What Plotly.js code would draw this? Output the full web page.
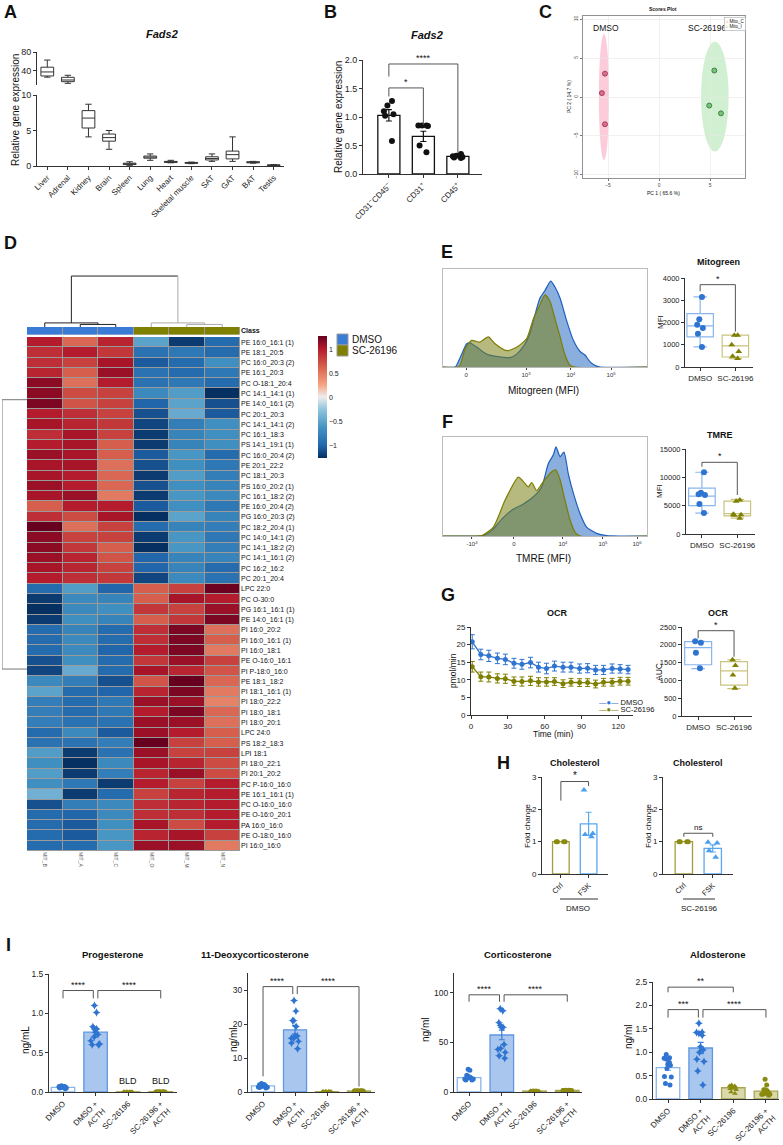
<!DOCTYPE html>
<html><head><meta charset="utf-8">
<script src="https://cdn.plot.ly/plotly-3.0.1.min.js"></script>
<style>body{margin:0;background:#fff}#chart{width:783px;height:1145px}</style>
</head><body><div id="chart"></div>
<script>
// ================= DATA =================
// A: Fads2 tissue expression (box stats)
const tissues=['Liver','Adrenal','Kidney','Brain','Spleen','Lung','Heart','Skeletal muscle','SAT','GAT','BAT','Testis'];
const tissueQ1=[29.5,17.5,5.35,3.5,0.2,1.1,0.5,0.38,0.85,1.0,0.45,0.08];
const tissueMedian=[38,21,6.75,4.0,0.3,1.25,0.58,0.45,1.05,1.6,0.52,0.12];
const tissueQ3=[48,26.7,7.8,4.5,0.4,1.4,0.65,0.5,1.3,2.1,0.6,0.15];
const tissueMin=[27,14,4.1,2.35,0.1,0.8,0.45,0.33,0.65,0.65,0.4,0.05];
const tissueMax=[63,31,8.7,5.0,0.6,1.7,0.8,0.55,1.7,4.1,0.65,0.2];
// B: Fads2 cell fractions
const cellTypes=['CD31<sup>−</sup>CD45<sup>−</sup>','CD31<sup>+</sup>','CD45<sup>+</sup>'];
const cellMean=[1.03,0.66,0.31];
const cellSem=[0.1,0.09,0.02];
const cellPts=[[1.28,1.2,1.1,1.05,1.02,0.58],[0.85,0.85,0.85,0.84,0.5,0.38],[0.28,0.3,0.32,0.35,0.31,0.29]];
const sigB=[[0,1,1.51,1.36,0.86,'*'],[0,2,1.93,1.71,0.37,'****']];
// C: PCA scores
const pcaDmsoX=[-5.3,-5.6,-5.3], pcaDmsoY=[3.0,0.5,-3.5];
const pcaScX=[5.4,4.9,6.05], pcaScY=[3.4,-1.1,-2.1];
const ellDmso=[-5.4,0,0.5,8.1], ellSc=[5.45,0.05,1.35,7.05]; // cx, cy, rx, ry
// D: lipid heatmap
const samples=['MIT_B','MIT_A','MIT_C','MIT_O','MIT_M','MIT_N'];
const sampleClass=[0,0,0,1,1,1];
const lipids=['PE 16:0_16:1 (1)','PE 18:1_20:5','PC 16:0_20:3 (2)','PE 16:1_20:3','PC O-18:1_20:4','PC 14:1_14:1 (1)','PE 14:0_16:1 (2)','PC 20:1_20:3','PC 14:1_14:1 (2)','PC 16:1_18:3','PS 14:1_19:1 (1)','PC 16:0_20:4 (2)','PE 20:1_22:2','PC 18:1_20:3','PS 16:0_20:2 (1)','PC 16:1_18:2 (2)','PE 16:0_20:4 (2)','PG 16:0_20:3 (2)','PC 18:2_20:4 (1)','PC 14:0_14:1 (2)','PC 14:1_18:2 (2)','PC 14:1_16:1 (2)','PC 16:2_16:2','PC 20:1_20:4','LPC 22:0','PC O-30:0','PG 16:1_16:1 (1)','PE 14:0_16:1 (1)','PI 16:0_20:2','PI 16:0_16:1 (1)','PI 16:0_18:1','PE O-16:0_16:1','PI P-18:0_16:0','PE 18:1_18:2','PI 18:1_16:1 (1)','PI 18:0_22:2','PI 18:0_18:1','PI 18:0_20:1','LPC 24:0','PS 18:2_18:3','LPI 18:1','PI 18:0_22:1','PI 20:1_20:2','PC P-16:0_16:0','PE 16:1_16:1 (1)','PC O-16:0_16:0','PE O-16:0_20:1','PA 16:0_16:0','PE O-18:0_16:0','PI 16:0_16:0'];
const heatZ=[
[1.0,0.6,0.95,-0.5,-1.2,-0.95],[0.9,1.0,0.85,-0.9,-0.85,-0.95],[0.9,0.8,1.05,-1.05,-0.95,-0.65],[0.95,0.65,1.1,-0.9,-0.95,-0.85],
[1.15,0.55,1.0,-0.9,-0.85,-0.95],[1.15,0.75,0.8,-0.7,-0.55,-1.3],[1.2,0.7,0.8,-1.0,-0.5,-1.1],[1.0,0.9,0.8,-1.1,-0.45,-1.05],
[1.05,0.95,0.85,-1.15,-0.8,-0.65],[0.9,1.05,0.8,-1.2,-0.75,-0.65],[1.0,1.05,0.65,-1.2,-0.75,-0.65],[1.1,1.05,0.65,-1.05,-0.6,-0.95],
[1.05,1.05,0.55,-1.1,-0.65,-0.85],[1.05,1.0,0.6,-1.2,-0.55,-0.8],[1.1,1.0,0.6,-1.1,-0.65,-0.75],[1.05,1.1,0.5,-1.2,-0.6,-0.7],
[0.65,1.0,1.0,-1.05,-0.65,-0.85],[0.9,0.75,1.05,-1.3,-0.5,-0.75],[1.3,0.55,0.8,-0.95,-0.75,-0.8],[1.15,0.8,0.8,-1.2,-0.6,-0.85],
[1.15,0.85,0.65,-1.25,-0.6,-0.8],[1.1,0.95,0.7,-1.0,-0.75,-0.75],[1.05,0.95,0.8,-1.0,-0.75,-0.95],[1.0,0.9,0.85,-1.15,-0.7,-0.9],
[-0.95,-0.55,-1.0,0.65,0.8,1.25],[-1.2,-0.7,-0.75,0.65,1.05,1.0],[-1.25,-0.7,-0.65,0.85,0.8,1.1],[-1.2,-0.65,-0.75,0.65,0.85,1.2],
[-0.95,-0.75,-0.95,0.9,1.2,0.55],[-0.95,-0.7,-0.95,0.9,1.2,0.65],[-0.95,-0.7,-1.0,1.0,1.2,0.5],[-1.1,-0.65,-0.95,0.85,1.1,0.8],
[-1.15,-0.45,-0.95,1.05,0.95,0.7],[-0.7,-0.8,-1.1,0.7,1.35,0.6],[-0.5,-0.95,-1.0,0.95,1.2,0.5],[-0.8,-0.95,-0.85,1.1,1.1,0.45],
[-0.8,-0.95,-0.85,1.0,1.2,0.6],[-0.8,-0.9,-0.9,1.1,1.1,0.55],[-0.95,-0.7,-1.05,1.1,1.0,0.65],[-0.9,-0.9,-0.8,1.3,0.8,0.65],
[-0.55,-1.2,-0.9,1.1,0.8,0.8],[-0.65,-1.3,-0.7,1.05,0.95,0.75],[-0.55,-1.2,-0.8,0.95,1.1,0.75],[-0.65,-0.85,-1.2,1.0,0.8,1.0],
[-0.4,-1.2,-0.95,0.8,0.95,1.0],[-1.1,-0.8,-0.7,0.9,0.95,1.0],[-0.95,-1.0,-0.7,0.9,0.9,1.0],[-0.95,-1.05,-0.65,1.05,0.75,1.0],
[-0.95,-1.05,-0.6,0.95,1.05,0.8],[-0.95,-0.95,-0.6,1.1,1.1,0.5]];
// column dendrogram (sample index, merge height)
const colDendLeftX=[1,1,2,2,null,0,0,1.5,1.5,null,0.75,0.75,3.75];
const colDendLeftY=[0,0.5,0.5,0,null,0,0.8,0.8,0.5,null,0.8,10,10];
const colDendRightX=[4,4,5,5,null,3,3,4.5,4.5,null,3.75,3.75];
const colDendRightY=[0,0.5,0.5,0,null,0,0.8,0.8,0.5,null,0.8,10];
const rowDendX=[1,0,0,1], rowDendY=[5.6,5.6,31.8,31.8];
// E: Mitogreen histogram (channel units) & box
const flowTickMito=[113,407,627,824], flowTickMitoText=['0','10<sup>3</sup>','10<sup>4</sup>','10<sup>5</sup>'];
const mitoBlueX=[0,60,67,92,116,132,160,214,270,328,361,400,426,450,475,500,528,549,574,606,639,672,696,721,753,770,1000];
const mitoBlueY=[0,0,2,15,27,28,24,15,12,11,15,26,39,60,80,89,100,93,80,54,31,18,14,6,1,0,0];
const mitoOliveX=[0,70,83,110,141,181,222,255,312,361,410,443,467,500,525,549,574,598,623,647,1000];
const mitoOliveY=[0,0,2,22,31,29,35,27,19,23,33,56,68,84,76,56,35,14,2,0,0];
const mitoDmso=[3150,2150,1900,1750,1500,900], mitoSc=[1430,1430,1000,700,480,380];
const mitoStats={q1:[1350,450],median:[1850,950],q3:[2400,1430],lo:[900,380],hi:[3150,1430]};
const sigE=[[0,1,3700,3400,1590,'*']];
// F: TMRE
const flowTickTmre=[142,348,588,784,951], flowTickTmreText=['-10<sup>4</sup>','0','10<sup>4</sup>','10<sup>5</sup>','10<sup>6</sup>'];
const tmreBlueX=[0,150,198,239,288,337,394,443,484,516,541,554,574,593,614,639,672,704,753,802,868,1000];
const tmreBlueY=[0,0,0.5,6,19,29,36,44,55,81,91,100,89,94,70,48,25,10,3,0.5,0,0];
const tmreOliveX=[0,150,190,247,304,369,394,418,435,459,492,533,554,574,598,623,647,672,1000];
const tmreOliveY=[0,0,0.5,10,40,66,61,55,60,51,61,72,74,63,40,18,4.5,0,0];
const tmreDmso=[10900,7300,7000,6900,5300,3700], tmreSc=[6000,5800,3500,3400,3300,2800];
const tmreStats={q1:[5000,3200],median:[6700,3600],q3:[8100,5800],lo:[3700,2800],hi:[10900,6100]};
const sigF=[[0,1,12650,11870,6880,'*']];
// G: OCR
const ocrTime=[1,8,14.5,21.5,28,35,41.5,48.5,55,61.5,68,75,81.5,88.5,95,101.5,108,115,121.5,128];
const ocrDmso=[20.8,17.2,16.8,16.1,15.8,14.7,14.4,14.9,13.6,13.2,13.9,13.6,13.6,13.2,13.3,12.8,12.8,13.2,13.1,12.9];
const ocrDmsoErr=[2.0,1.5,1.6,1.5,1.5,1.4,1.4,1.5,1.4,1.5,1.4,1.4,1.4,1.3,1.3,1.3,1.3,1.3,1.2,1.2];
const ocrSc=[13.7,10.9,10.8,10.4,10.3,9.6,9.5,9.7,9.4,9.4,9.5,8.9,9.3,9.2,9.2,8.8,9.3,9.3,9.6,9.6];
const ocrScErr=[1.5,1.3,1.4,1.3,1.3,1.2,1.3,1.3,1.2,1.2,1.1,1.1,1.1,1.1,1.1,1.1,1.1,1.1,1.1,1.1];
const aucDmso=[2060,2100,1780,1340], aucSc=[1580,1420,1150,780];
const aucStats={q1:[1440,870],median:[1920,1270],q3:[2090,1530],lo:[1330,770],hi:[2100,1580]};
const sigG=[[0,1,2396,2180,1666,'*']];
const groups2=['DMSO','SC-26196'];
// H: Cholesterol
const cholCats=['Ctrl','FSK'];
const cholDmsoMean=[1.0,1.55], cholDmsoSem=[0,0.36];
const cholDmsoPts=[[1,1,1,1],[2.6,1.25,1.15,1.22]];
const cholScMean=[1.0,0.79], cholScSem=[0,0.11];
const cholScPts=[[1,1,1,1],[0.98,0.96,0.72,0.52]];
const sigH1=[[0,1,2.86,2.27,2.72,'*']], sigH2=[[0,1,1.26,1.15,1.15,'ns']];
// I: steroids
const steroidCats=['DMSO','DMSO +<br>ACTH','SC-26196','SC-26196 +<br>ACTH'];
const progMean=[0.06,0.76,0.003,0.005], progSem=[0.005,0.04,0,0];
const progPts=[[0.08,0.07,0.06,0.05,0.07,0.06,0.04,0.06,0.07,0.05,0.06,0.07],[1.10,1.01,0.80,0.83,0.80,0.76,0.70,0.73,0.61,0.60,0.60,0.65],[0,0,0,0,0,0,0,0,0,0,0,0],[0,0,0,0,0,0,0,0,0,0,0,0]];
const sigProg=[[0,0.93,1.29,1.19,1.19,'****'],[1.07,3,1.29,1.19,1.19,'****']];
const docMean=[1.8,18.3,0.1,0.3], docSem=[0.12,1.3,0.01,0.02];
const docPts=[[2.5,2.2,2.0,1.8,1.5,1.3,1.2,1.6,1.9,2.1,1.4,1.7],[26.9,23.8,21.0,21.0,19.3,15.8,16.5,16.5,15.8,14.9,14.4,12.7],[0.1,0.1,0.1,0.1,0.1,0.1,0.1,0.1,0.1,0.1,0.1,0.1],[0.3,0.3,0.3,0.3,0.3,0.3,0.3,0.3,0.3,0.3,0.3,0.3]];
const sigDoc=[[0,0.93,31,4.6,28.8,'****'],[1.07,3,31,28.8,1.6,'****']];
const cortMean=[14.5,57.5,1.0,1.5], cortSem=[1.0,4.8,0.1,0.1];
const cortPts=[[23,22,17,15,14,13,12,13,15,16,12,14],[84,82,70,65.4,67,65,48,44,40,34,36.6,43],[1,0.8,1.2,1,0.9,1.1,1,0.8,1.2,1,0.9,1.1],[1.5,1.3,1.7,1.5,1.4,1.6,1.5,1.3,1.7,1.5,1.4,1.6]];
const sigCort=[[0,0.93,98,91,91,'****'],[1.07,3,98,91,91,'****']];
const aldoMean=[0.67,1.09,0.24,0.17], aldoSem=[0.06,0.12,0.02,0.03];
const aldoPts=[[0.95,0.88,0.87,0.85,0.78,0.75,0.72,0.65,0.48,0.47,0.33,0.30],[1.62,1.43,1.42,1.40,1.36,1.12,1.05,1.0,0.85,0.80,0.60,0.30],[0.30,0.28,0.27,0.25,0.25,0.23,0.22,0.28,0.25,0.20,0.15,0.12],[0.42,0.30,0.20,0.18,0.15,0.15,0.12,0.10,0.10,0.08,0.20,0.10]];
const sigAldo=[[0,2,2.39,2.28,2.28,'**'],[0,0.93,1.91,1.74,1.74,'***'],[1.07,3,1.91,1.74,1.74,'****']];

// ================= STYLE / HELPERS =================
const W=783,H=1145;
const FONT='Liberation Sans, Arial, Helvetica, sans-serif';
const xd=(a,b)=>[a/W,b/W];
const yd=(t,b)=>[1-b/H,1-t/H];
const BLUE='#2F74D0', LBLUE_FILL='#A9C7EE', LBLUE_LINE='#8AB5EC', OLIVE='#7F7F00', OLIVE_LINE='#A9A653', OLIVE_FILL='#DAD9AC';
const traces=[], shapes=[], annotations=[];
function ann(px,py,text,size,o={}){annotations.push(Object.assign({xref:'paper',yref:'paper',x:px/W,y:1-py/H,text,showarrow:false,font:{size,family:FONT,color:'#111'},xanchor:'center',yanchor:'middle'},o));}
function ax(extra){return Object.assign({showline:true,linecolor:'#333',linewidth:1,ticks:'outside',ticklen:3,tickwidth:1,tickcolor:'#333',showgrid:false,zeroline:false,fixedrange:true,tickfont:{size:8,color:'#222',family:FONT}},extra);}
function bracket(xa,ya,list,fs){
  list.forEach(b=>{const [x0,x1,y,l0,l1,t]=b;const ln={color:'#555',width:1};
    shapes.push({type:'line',xref:xa,yref:ya,x0:x0,x1:x0,y0:l0,y1:y,line:ln});
    shapes.push({type:'line',xref:xa,yref:ya,x0:x0,x1:x1,y0:y,y1:y,line:ln});
    shapes.push({type:'line',xref:xa,yref:ya,x0:x1,x1:x1,y0:l1,y1:y,line:ln});
    annotations.push({xref:xa,yref:ya,x:(x0+x1)/2,y:y,text:t,showarrow:false,yanchor:'bottom',yshift:-1,font:{size:fs||9,family:FONT,color:'#111'}});});
}
function pts(xa,ya,cat,vals,color,symbol,size,jit){
  traces.push({type:'box',xaxis:xa,yaxis:ya,x:vals.map(()=>cat),y:vals,boxpoints:'all',jitter:jit,pointpos:0,
    line:{width:0,color:'rgba(0,0,0,0)'},fillcolor:'rgba(0,0,0,0)',marker:{color,symbol,size,line:{width:0}},showlegend:false,hoverinfo:'y'});
}
function statBox(xa,ya,cats,st,colors,width){
  cats.forEach((c,i)=>traces.push({type:'box',xaxis:xa,yaxis:ya,x:[c],q1:[st.q1[i]],median:[st.median[i]],q3:[st.q3[i]],lowerfence:[st.lo[i]],upperfence:[st.hi[i]],
    width:width,whiskerwidth:0.5,fillcolor:'rgba(255,255,255,0)',line:{color:colors[i],width:1.2},boxpoints:false,showlegend:false}));
}
function bar(xa,ya,cat,mean,sem,fill,line,errColor,width){
  traces.push({type:'bar',xaxis:xa,yaxis:ya,x:[cat],y:[mean],width:width,marker:{color:fill,line:{color:line,width:1.3}},
    error_y:{type:'data',array:[sem],visible:sem>0,color:errColor,thickness:1.2,width:3},showlegend:false});
}
const layout={width:W,height:H,margin:{l:0,r:0,t:0,b:0},paper_bgcolor:'white',plot_bgcolor:'white',
  font:{family:FONT,size:8,color:'#222'},barmode:'overlay',boxmode:'overlay',showlegend:false,hovermode:false};

// ================= PANEL A =================
layout.xaxis=ax({domain:xd(37,284),anchor:'y',type:'category',categoryorder:'array',categoryarray:tissues,range:[-0.5,11.5],tickangle:-45,tickfont:{size:8,family:FONT}});
layout.yaxis=ax({domain:yd(95,166),anchor:'x',range:[0,10],tickvals:[0,5,10],tickfont:{size:9,family:FONT}});
layout.yaxis2=ax({domain:yd(52,85),anchor:'x',range:[10.5,80],tickvals:[40,80],tickfont:{size:9,family:FONT}});
[[0,2,'y2'],[2,12,'y']].forEach(([a,b,ya])=>traces.push({type:'box',xaxis:'x',yaxis:ya,x:tissues.slice(a,b),q1:tissueQ1.slice(a,b),median:tissueMedian.slice(a,b),
  q3:tissueQ3.slice(a,b),lowerfence:tissueMin.slice(a,b),upperfence:tissueMax.slice(a,b),width:0.62,whiskerwidth:0.5,fillcolor:'white',line:{color:'#333',width:1},boxpoints:false,showlegend:false}));
ann(10,12,'<b>A</b>',18);
ann(162,34,'<b><i>Fads2</i></b>',11);
ann(15,110,'Relative gene expression',10,{textangle:-90});

// ================= PANEL B =================
layout.xaxis3=ax({domain:xd(363,482),anchor:'y3',type:'category',categoryorder:'array',categoryarray:cellTypes,range:[-0.75,2.7],tickangle:-45,tickfont:{size:8,family:FONT}});
layout.yaxis3=ax({domain:yd(60,174),anchor:'x3',range:[0,2],tickvals:[0,0.5,1,1.5,2],tickformat:'.1f',tickfont:{size:9,family:FONT}});
cellTypes.forEach((c,i)=>{bar('x3','y3',c,cellMean[i],cellSem[i],'white','#111','#111',0.64);pts('x3','y3',c,cellPts[i],'#111','circle',6,0.7);});
bracket('x3','y3',sigB,9);
ann(330,12,'<b>B</b>',18);
ann(427,35,'<b><i>Fads2</i></b>',11);
ann(338,117,'Relative gene expression',10,{textangle:-90});

// ================= PANEL C =================
const pcaAx={showline:true,mirror:true,linecolor:'#777',linewidth:0.8,ticks:'outside',ticklen:2,tickcolor:'#777',showgrid:true,gridcolor:'#e8e8e8',gridwidth:0.6,zeroline:false,fixedrange:true,tickfont:{size:5,color:'#444',family:FONT}};
layout.xaxis4=Object.assign({},pcaAx,{domain:xd(583,745),anchor:'y4',range:[-7.45,8.4],tickvals:[-5,0,5]});
layout.yaxis4=Object.assign({},pcaAx,{domain:yd(16,178),anchor:'x4',range:[-10.4,10.4],tickvals:[-10,-5,0,5,10],tickangle:-90});
[[ellDmso,'rgba(250,170,195,0.6)'],[ellSc,'rgba(190,232,190,0.7)']].forEach(([e,c])=>shapes.push({type:'circle',xref:'x4',yref:'y4',x0:e[0]-e[2],x1:e[0]+e[2],y0:e[1]-e[3],y1:e[1]+e[3],fillcolor:c,line:{width:0},layer:'below'}));
traces.push({type:'scatter',mode:'markers',xaxis:'x4',yaxis:'y4',x:pcaDmsoX,y:pcaDmsoY,marker:{color:'#DE6C8C',size:5,line:{color:'#8E2F4B',width:0.8}},showlegend:false});
traces.push({type:'scatter',mode:'markers',xaxis:'x4',yaxis:'y4',x:pcaScX,y:pcaScY,marker:{color:'#76C37A',size:5,line:{color:'#2F6E32',width:0.8}},showlegend:false});
annotations.push({xref:'x4',yref:'y4',x:-5.2,y:8.8,text:'DMSO',showarrow:false,font:{size:8.5,family:FONT,color:'#111'}});
annotations.push({xref:'x4',yref:'y4',x:4.75,y:8.8,text:'SC-26196',showarrow:false,font:{size:8.5,family:FONT,color:'#111'}});
ann(735,24,'<span style="color:#DE6C8C">○</span> Mito_C<br><span style="color:#4CAF50">○</span> Mito_I',4.5,{bordercolor:'#999',borderwidth:0.5,bgcolor:'white',align:'left',borderpad:1});
ann(545,12,'<b>C</b>',18);
ann(663,9,'<b>Scores Plot</b>',5);
ann(663,193,'PC 1 ( 65.6 %)',5);
ann(569,97,'PC 2 ( 14.7 %)',5,{textangle:-90});

// ================= PANEL D =================
layout.xaxis5={domain:xd(27,240),anchor:'y5',range:[-0.5,5.5],tickvals:samples.map((_,i)=>i),ticktext:samples,tickangle:90,tickfont:{size:5,color:'#555',family:FONT},showline:false,showgrid:false,zeroline:false,ticks:'',fixedrange:true};
layout.yaxis5={domain:yd(337,851),anchor:'x5',range:[49.5,-0.5],tickvals:lipids.map((_,i)=>i),ticktext:lipids,side:'right',tickfont:{size:7,color:'#111',family:FONT},showline:false,showgrid:false,zeroline:false,ticks:'',fixedrange:true};
layout.yaxis6={domain:yd(327,334.5),anchor:'x5',range:[-0.5,0.5],tickvals:[0],ticktext:['<b>Class</b>'],side:'right',tickfont:{size:7,color:'#111',family:FONT},showline:false,showgrid:false,zeroline:false,ticks:'',fixedrange:true};
layout.yaxis7={domain:yd(274,327),anchor:'x5',range:[0,10.4],visible:false,fixedrange:true};
layout.xaxis8={domain:xd(2,27),anchor:'y5',range:[0,1],visible:false,fixedrange:true};
shapes.push({type:'rect',xref:'paper',yref:'paper',x0:27/W,x1:240/W,y0:1-851/H,y1:1-337/H,fillcolor:'#9a9a9a',line:{width:0},layer:'below'});
shapes.push({type:'rect',xref:'paper',yref:'paper',x0:27/W,x1:240/W,y0:1-334.5/H,y1:1-327/H,fillcolor:'#9a9a9a',line:{width:0},layer:'below'});
traces.push({type:'heatmap',xaxis:'x5',yaxis:'y5',z:heatZ,x:samples.map((_,i)=>i),y:lipids.map((_,i)=>i),xgap:1,ygap:1,zmin:-1.25,zmax:1.27,
  colorscale:[[0,'#053061'],[0.1,'#2166AC'],[0.25,'#4393C3'],[0.4,'#92C5DE'],[0.5,'#EDEDED'],[0.6,'#F4A582'],[0.75,'#D6604D'],[0.9,'#B2182B'],[1,'#67001F']],
  colorbar:{x:308/W,xanchor:'left',y:1-397/H,yanchor:'middle',len:142/H,lenmode:'fraction',thickness:9,tickvals:[-1,-0.5,0,0.5,1],ticktext:['−1','−0.5','0','0.5','1'],tickfont:{size:7,family:FONT},outlinewidth:0,ticks:''},showlegend:false});
traces.push({type:'heatmap',xaxis:'x5',yaxis:'y6',z:[sampleClass],x:samples.map((_,i)=>i),y:[0],xgap:1,zmin:0,zmax:1,showscale:false,
  colorscale:[[0,'#3A7BD5'],[0.5,'#3A7BD5'],[0.5,'#808000'],[1,'#808000']],showlegend:false});
traces.push({type:'scatter',mode:'lines',xaxis:'x5',yaxis:'y7',x:colDendLeftX,y:colDendLeftY,line:{color:'#222',width:1},showlegend:false,connectgaps:false});
traces.push({type:'scatter',mode:'lines',xaxis:'x5',yaxis:'y7',x:colDendRightX,y:colDendRightY,line:{color:'#aaa',width:1},showlegend:false,connectgaps:false});
traces.push({type:'scatter',mode:'lines',xaxis:'x8',yaxis:'y5',x:rowDendX,y:rowDendY,line:{color:'#777',width:1},showlegend:false});
[['DMSO','#3A7BD5',334],['SC-26196','#808000',345]].forEach(([t,c,y])=>{
  shapes.push({type:'rect',xref:'paper',yref:'paper',x0:337/W,x1:348/W,y0:1-(y+11)/H,y1:1-y/H,fillcolor:c,line:{color:'#999',width:1}});
  ann(350,y+5.5,t,10,{xanchor:'left'});});
ann(10,243,'<b>D</b>',18);

// ================= PANEL E =================
const histAxX={showline:true,mirror:true,linecolor:'#bbb',linewidth:1,ticks:'outside',ticklen:2,tickcolor:'#444',showgrid:false,zeroline:false,fixedrange:true,tickfont:{size:6,color:'#333',family:FONT}};
const histAxY={showline:true,mirror:true,linecolor:'#bbb',linewidth:1,ticks:'',showticklabels:false,showgrid:false,zeroline:false,fixedrange:true};
layout.xaxis9=Object.assign({},histAxX,{domain:xd(443,647),anchor:'y9',range:[0,1000],tickvals:flowTickMito,ticktext:flowTickMitoText});
layout.yaxis9=Object.assign({},histAxY,{domain:yd(269,367),anchor:'x9',range:[0,114]});
traces.push({type:'scatter',mode:'lines',xaxis:'x9',yaxis:'y9',x:mitoBlueX,y:mitoBlueY,fill:'tozeroy',fillcolor:'rgba(60,120,200,0.6)',line:{color:'#1F5FBF',width:1.2,shape:'spline',smoothing:0.6},showlegend:false});
traces.push({type:'scatter',mode:'lines',xaxis:'x9',yaxis:'y9',x:mitoOliveX,y:mitoOliveY,fill:'tozeroy',fillcolor:'rgba(122,130,20,0.55)',line:{color:'#7D7D00',width:1.2,shape:'spline',smoothing:0.6},showlegend:false});
layout.xaxis10=ax({domain:xd(685,753),anchor:'y10',type:'category',categoryarray:groups2,categoryorder:'array',range:[-0.43,1.5],tickfont:{size:8,family:FONT}});
layout.yaxis10=ax({domain:yd(278,367),anchor:'x10',range:[0,4000],tickvals:[0,1000,2000,3000,4000],tickformat:'d',tickfont:{size:7.5,family:FONT}});
statBox('x10','y10',groups2,mitoStats,[LBLUE_LINE,'#C9C47F'],0.75);
pts('x10','y10','DMSO',mitoDmso,BLUE,'circle',6,0.4);
pts('x10','y10','SC-26196',mitoSc,OLIVE,'triangle-up',6,0.5);
bracket('x10','y10',sigE,9);
ann(447,252,'<b>E</b>',18);
ann(718,262,'<b>Mitogreen</b>',9);
ann(543,390,'Mitogreen (MFI)',10);
ann(660,322,'MFI',8,{textangle:-90});

// ================= PANEL F =================
layout.xaxis11=Object.assign({},histAxX,{domain:xd(443,647),anchor:'y11',range:[0,1000],tickvals:flowTickTmre,ticktext:flowTickTmreText});
layout.yaxis11=Object.assign({},histAxY,{domain:yd(437,536),anchor:'x11',range:[0,111]});
traces.push({type:'scatter',mode:'lines',xaxis:'x11',yaxis:'y11',x:tmreBlueX,y:tmreBlueY,fill:'tozeroy',fillcolor:'rgba(60,120,200,0.6)',line:{color:'#1F5FBF',width:1.2,shape:'spline',smoothing:0.6},showlegend:false});
traces.push({type:'scatter',mode:'lines',xaxis:'x11',yaxis:'y11',x:tmreOliveX,y:tmreOliveY,fill:'tozeroy',fillcolor:'rgba(122,130,20,0.55)',line:{color:'#7D7D00',width:1.2,shape:'spline',smoothing:0.6},showlegend:false});
layout.xaxis12=ax({domain:xd(686,755),anchor:'y12',type:'category',categoryarray:groups2,categoryorder:'array',range:[-0.45,1.5],tickfont:{size:8,family:FONT}});
layout.yaxis12=ax({domain:yd(449,534),anchor:'x12',range:[0,15000],tickvals:[0,5000,10000,15000],tickformat:'d',tickfont:{size:7.5,family:FONT}});
statBox('x12','y12',groups2,tmreStats,[LBLUE_LINE,'#C9C47F'],0.75);
pts('x12','y12','DMSO',tmreDmso,BLUE,'circle',6,0.45);
pts('x12','y12','SC-26196',tmreSc,OLIVE,'triangle-up',6,0.55);
bracket('x12','y12',sigF,9);
ann(447,422,'<b>F</b>',18);
ann(720,435,'<b>TMRE</b>',9);
ann(543,558,'TMRE (MFI)',10);
ann(660,491,'MFI',8,{textangle:-90});

// ================= PANEL G =================
layout.xaxis13=ax({domain:xd(471,633),anchor:'y13',range:[0,132],tickvals:[0,30,60,90,120],tickfont:{size:8,family:FONT}});
layout.yaxis13=ax({domain:yd(627,715),anchor:'x13',range:[0,25],tickvals:[0,5,10,15,20,25],tickfont:{size:8,family:FONT}});
traces.push({type:'scatter',mode:'lines+markers',name:'DMSO',xaxis:'x13',yaxis:'y13',x:ocrTime,y:ocrDmso,error_y:{type:'data',array:ocrDmsoErr,color:BLUE,thickness:1,width:2.5},line:{color:BLUE,width:1.3},marker:{color:BLUE,size:5},showlegend:false});
traces.push({type:'scatter',mode:'lines+markers',name:'SC-26196',xaxis:'x13',yaxis:'y13',x:ocrTime,y:ocrSc,error_y:{type:'data',array:ocrScErr,color:OLIVE,thickness:1,width:2.5},line:{color:OLIVE,width:1.3},marker:{color:OLIVE,size:5},showlegend:false});
ann(597,702,'<span style="color:'+BLUE+'">—●—</span> DMSO',7.5,{xanchor:'left'});
ann(597,709,'<span style="color:'+OLIVE+'">—●—</span> SC-26196',7.5,{xanchor:'left'});
layout.xaxis14=ax({domain:xd(682,752),anchor:'y14',type:'category',categoryarray:groups2,categoryorder:'array',range:[-0.45,1.5],tickfont:{size:8,family:FONT}});
layout.yaxis14=ax({domain:yd(627,716),anchor:'x14',range:[0,2500],tickvals:[0,500,1000,1500,2000,2500],tickformat:'d',tickfont:{size:7.5,family:FONT}});
statBox('x14','y14',groups2,aucStats,[LBLUE_LINE,'#C9C47F'],0.75);
pts('x14','y14','DMSO',aucDmso,BLUE,'circle',6,0.4);
pts('x14','y14','SC-26196',aucSc,OLIVE,'triangle-up',6,0.2);
bracket('x14','y14',sigG,9);
ann(448,595,'<b>G</b>',18);
ann(557,613,'<b>OCR</b>',9);
ann(718,613,'<b>OCR</b>',9);
ann(553,734,'Time (min)',8.5);
ann(453,671,'pmol/min',8.5,{textangle:-90});
ann(659,672,'AUC',8.5,{textangle:-90});

// ================= PANEL H =================
[['x15','y15',542,608,-0.68,cholDmsoMean,cholDmsoSem,cholDmsoPts,sigH1],['x16','y16',663,733,-0.72,cholScMean,cholScSem,cholScPts,sigH2]].forEach(([xa,ya,a,b,r0,m,s,p,sig])=>{
  const n=xa.slice(1);
  layout['xaxis'+n]=ax({domain:xd(a,b),anchor:ya,type:'category',categoryarray:cholCats,categoryorder:'array',range:[r0,1.7],tickangle:-45,tickfont:{size:7.5,family:FONT}});
  layout['yaxis'+n]=ax({domain:yd(777,874),anchor:xa,range:[0,3],tickvals:[0,1,2,3],tickfont:{size:8,family:FONT}});
  bar(xa,ya,'Ctrl',m[0],s[0],'white','#A09E40','#A09E40',0.6);
  bar(xa,ya,'FSK',m[1],s[1],'white','#5AA8F2','#5AA8F2',0.6);
  pts(xa,ya,'Ctrl',p[0],'#8A8A10','circle',5,0.8);
  pts(xa,ya,'FSK',p[1],'#4A9FF0','triangle-up',6,0.8);
  bracket(xa,ya,sig,sig[0][5]==='ns'?8:10);
});
shapes.push({type:'line',xref:'paper',yref:'paper',x0:560/W,x1:598/W,y0:1-899/H,y1:1-899/H,line:{color:'#333',width:1}});
shapes.push({type:'line',xref:'paper',yref:'paper',x0:683/W,x1:715/W,y0:1-899/H,y1:1-899/H,line:{color:'#333',width:1}});
ann(578,908,'DMSO',8);
ann(699,908,'SC-26196',8);
ann(503,763,'<b>H</b>',18);
ann(575,763,'<b>Cholesterol</b>',9);
ann(698,763,'<b>Cholesterol</b>',9);
ann(527,826,'Fold change',8,{textangle:-90});
ann(648,826,'Fold change',8,{textangle:-90});

// ================= PANEL I =================
const iFill=['white',LBLUE_FILL,OLIVE_FILL,OLIVE_FILL];
const iLine=[LBLUE_LINE,'#5F97E0',OLIVE_LINE,OLIVE_LINE];
const iErr=[LBLUE_LINE,'#3B7DDD',OLIVE_LINE,OLIVE_LINE];
const iMarkC=[BLUE,BLUE,'#8A8A10','#8A8A10'];
const iSym=['circle','star-diamond','triangle-up','circle'];
[['x17','y17',49,177,[-0.43,3.5],yd(974,1092),[0,1.5],[0,0.5,1,1.5],'.1f',progMean,progSem,progPts,sigProg,113,'Progesterone',25,1040,'ng/mL'],
 ['x18','y18',248,375,[-0.47,3.5],yd(973,1092),[0,35],[0,10,20,30],'',docMean,docSem,docPts,sigDoc,255,'11-Deoxycorticosterone',233,1040,'ng/ml'],
 ['x19','y19',454,582,[-0.46,3.45],yd(973,1092),[0,120],[0,50,100],'',cortMean,cortSem,cortPts,sigCort,518,'Corticosterone',425,1030,'ng/ml'],
 ['x20','y20',653,779,[-0.46,3.4],yd(982,1099),[0,2.5],[0,0.5,1,1.5,2,2.5],'.1f',aldoMean,aldoSem,aldoPts,sigAldo,717,'Aldosterone',628,1037,'ng/ml']
].forEach(([xa,ya,a,b,xr,ydom,yr,tv,tf,m,s,p,sig,tx,title,yx,yy,yt])=>{
  const n=xa.slice(1);
  layout['xaxis'+n]=ax({domain:xd(a,b),anchor:ya,type:'category',categoryarray:steroidCats,categoryorder:'array',range:xr,tickangle:-45,tickfont:{size:8,family:FONT}});
  layout['yaxis'+n]=ax({domain:ydom,anchor:xa,range:yr,tickvals:tv,tickformat:tf,tickfont:{size:8.5,family:FONT}});
  steroidCats.forEach((c,i)=>{bar(xa,ya,c,m[i],s[i],iFill[i],iLine[i],iErr[i],0.72);pts(xa,ya,c,p[i],iMarkC[i],iSym[i],i===1?6:5,0.7);});
  bracket(xa,ya,sig,9);
  ann(tx,955,'<b>'+title+'</b>',9.5);
  ann(yx,yy,yt,10,{textangle:-90});
});
annotations.push({xref:'x17',yref:'y17',x:2,y:0.14,text:'BLD',showarrow:false,font:{size:9,family:FONT,color:'#111'}});
annotations.push({xref:'x17',yref:'y17',x:3,y:0.14,text:'BLD',showarrow:false,font:{size:9,family:FONT,color:'#111'}});
ann(8,945,'<b>I</b>',18);

layout.shapes=shapes;
layout.annotations=annotations;
Plotly.newPlot('chart',traces,layout,{displayModeBar:false,staticPlot:true});
</script></body></html>
